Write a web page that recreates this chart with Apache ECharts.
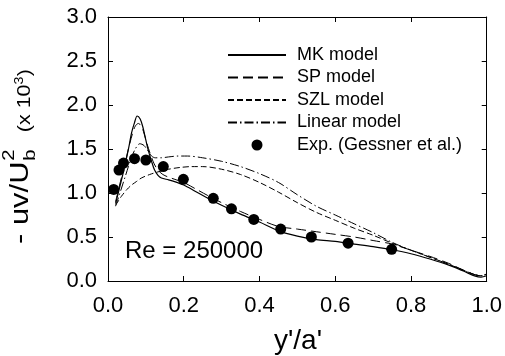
<!DOCTYPE html>
<html><head><meta charset="utf-8">
<script src="https://cdn.jsdelivr.net/npm/echarts@6/dist/echarts.min.js"></script>
<style>html,body{margin:0;padding:0;background:#fff}#c{width:505px;height:356px}</style>
</head><body><div id="c"></div>
<script>
// ---- data ----
const xTickLabels = ['0.0','0.2','0.4','0.6','0.8','1.0'];
const yTickLabels = ['0.0','0.5','1.0','1.5','2.0','2.5','3.0'];

const mkX = [0.02,0.03,0.044,0.055,0.062,0.07,0.077,0.085,0.092,0.1,0.106,0.115,0.123,0.132,0.141,0.16,0.176,0.2,0.23,0.264,0.3,0.35,0.4,0.45,0.5,0.55,0.6,0.65,0.7,0.75,0.8,0.85,0.9,0.94,0.97,0.985,1.0];
const mkY = [0.88,1.05,1.30,1.52,1.68,1.80,1.875,1.84,1.75,1.60,1.49,1.36,1.26,1.20,1.17,1.15,1.13,1.09,1.02,0.94,0.86,0.76,0.67,0.57,0.51,0.47,0.45,0.42,0.39,0.355,0.31,0.25,0.18,0.11,0.055,0.045,0.06];

const spX = [0.02,0.03,0.044,0.055,0.065,0.072,0.08,0.088,0.095,0.103,0.112,0.122,0.132,0.145,0.16,0.18,0.2,0.23,0.264,0.3,0.35,0.4,0.45,0.5,0.55,0.6,0.65,0.7,0.75,0.8,0.85,0.9,0.94,0.97,0.985,1.0];
const spY = [0.90,1.08,1.32,1.52,1.68,1.76,1.79,1.76,1.68,1.56,1.44,1.33,1.26,1.21,1.18,1.15,1.12,1.05,0.97,0.89,0.79,0.70,0.62,0.59,0.56,0.53,0.50,0.46,0.42,0.35,0.28,0.20,0.12,0.07,0.06,0.08];

const szlX = [0.02,0.035,0.05,0.062,0.075,0.088,0.11,0.132,0.16,0.19,0.22,0.25,0.3,0.35,0.4,0.45,0.5,0.55,0.6,0.65,0.7,0.75,0.8,0.85,0.9,0.94,0.97,0.985,1.0];
const szlY = [0.86,0.96,1.04,1.09,1.13,1.17,1.21,1.24,1.27,1.29,1.30,1.30,1.27,1.21,1.12,1.01,0.89,0.78,0.69,0.60,0.52,0.43,0.35,0.27,0.19,0.12,0.07,0.06,0.08];

const linX = [0.02,0.03,0.045,0.06,0.072,0.084,0.095,0.105,0.115,0.125,0.14,0.16,0.185,0.21,0.25,0.3,0.35,0.4,0.45,0.5,0.55,0.6,0.65,0.7,0.75,0.8,0.85,0.9,0.94,0.97,0.985,1.0];
const linY = [0.85,0.98,1.18,1.38,1.50,1.56,1.54,1.48,1.42,1.40,1.40,1.41,1.42,1.42,1.40,1.36,1.30,1.22,1.12,0.98,0.85,0.75,0.65,0.55,0.44,0.35,0.27,0.19,0.12,0.07,0.06,0.07];

const expX = [0.015,0.029,0.041,0.070,0.100,0.146,0.199,0.278,0.326,0.385,0.456,0.537,0.634,0.749];
const expY = [1.04,1.26,1.34,1.39,1.375,1.30,1.156,0.94,0.82,0.70,0.59,0.50,0.43,0.36];

const seriesNames = ['MK model','SP model','SZL model','Linear model','Exp. (Gessner et al.)'];
const annotation = 'Re = 250000';

// ---- chart ----
const FONT = "'Liberation Sans', Arial, sans-serif";
const zip = (xs, ys) => xs.map((x, i) => [x, ys[i]]);
const chart = echarts.init(document.getElementById('c'), null, {renderer: 'canvas'});

const lineSeries = (name, xs, ys, type, w) => ({
  name, type: 'line', data: zip(xs, ys), symbol: 'none', smooth: 0.3,
  lineStyle: {color: '#000', width: w || 1, type},
  itemStyle: {color: '#000'},
  z: 3
});

const axisCommonX = {
  type: 'value', min: 0, max: 1, interval: 0.2,
  splitLine: {show: false},
  axisLine: {show: true, onZero: false, lineStyle: {color: '#000', width: 1}},
  axisTick: {show: true, inside: true, length: 5, lineStyle: {color: '#000'}}
};
const axisCommonY = {
  type: 'value', min: 0, max: 3, interval: 0.5,
  splitLine: {show: false},
  axisLine: {show: true, onZero: false, lineStyle: {color: '#000', width: 1}},
  axisTick: {show: true, inside: true, length: 5, lineStyle: {color: '#000'}}
};

chart.setOption({
  animation: false,
  backgroundColor: '#fff',
  grid: {left: 108, right: 18, top: 17, bottom: 75},
  xAxis: [
    Object.assign({}, axisCommonX, {position: 'bottom',
      axisLabel: {margin: 14, color: '#000', fontSize: 22, fontFamily: FONT,
        formatter: (v) => xTickLabels[Math.round(v / 0.2)]}}),
    Object.assign({}, axisCommonX, {position: 'top', axisLabel: {show: false}})
  ],
  yAxis: [
    Object.assign({}, axisCommonY, {position: 'left',
      axisLabel: {margin: 11, color: '#000', fontSize: 22, fontFamily: FONT,
        formatter: (v) => yTickLabels[Math.round(v / 0.5)]}}),
    Object.assign({}, axisCommonY, {position: 'right', axisLabel: {show: false}})
  ],
  legend: {
    orient: 'vertical', left: 222, top: 41,
    itemWidth: 58, itemHeight: 11, itemGap: 4.5,
    itemStyle: {opacity: 0},
    textStyle: {color: '#000', fontSize: 18, fontFamily: FONT, padding: [0, 0, 0, 6]},
    data: [
      {name: seriesNames[0]}, {name: seriesNames[1]}, {name: seriesNames[2]}, {name: seriesNames[3]},
      {name: seriesNames[4], itemStyle: {opacity: 1, color: '#000'}}
    ]
  },
  series: [
    lineSeries(seriesNames[0], mkX, mkY, 'solid', 1.2),
    lineSeries(seriesNames[1], spX, spY, [10, 5]),
    lineSeries(seriesNames[2], szlX, szlY, [6, 3]),
    lineSeries(seriesNames[3], linX, linY, [9, 3, 1.5, 3]),
    {name: seriesNames[4], type: 'scatter', data: zip(expX, expY), symbol: 'circle', symbolSize: 11,
     itemStyle: {color: '#000', opacity: 1}, z: 4}
  ],
  graphic: [
    {type: 'text', left: 125, top: 239, style: {text: annotation, font: '24px ' + FONT, fill: '#000'}},
    {type: 'text', x: 298, y: 341, style: {text: "y'/a'", font: '28px ' + FONT, fill: '#000', textAlign: 'center', textVerticalAlign: 'middle'}},
    {type: 'group', x: 34, y: 244, rotation: Math.PI / 2, scaleX: 1.19, scaleY: 1,
     children: [
       {type: 'text', x: 0, y: 0, style: {text: '- uv/U', font: '26px ' + FONT, fill: '#000', textAlign: 'left', textVerticalAlign: 'bottom'}},
       {type: 'text', x: 70, y: 5, style: {text: 'b', font: '17px ' + FONT, fill: '#000', textAlign: 'left', textVerticalAlign: 'bottom'}},
       {type: 'text', x: 70, y: -16, style: {text: '2', font: '17px ' + FONT, fill: '#000', textAlign: 'left', textVerticalAlign: 'bottom'}},
       {type: 'text', x: 94, y: 0, style: {text: '(x 10', font: '18px ' + FONT, fill: '#000', textAlign: 'left', textVerticalAlign: 'bottom'}},
       {type: 'text', x: 134, y: -8, style: {text: '3', font: '12px ' + FONT, fill: '#000', textAlign: 'left', textVerticalAlign: 'bottom'}},
       {type: 'text', x: 141, y: 0, style: {text: ')', font: '18px ' + FONT, fill: '#000', textAlign: 'left', textVerticalAlign: 'bottom'}}
     ]}
  ]
});
</script>
</body></html>
